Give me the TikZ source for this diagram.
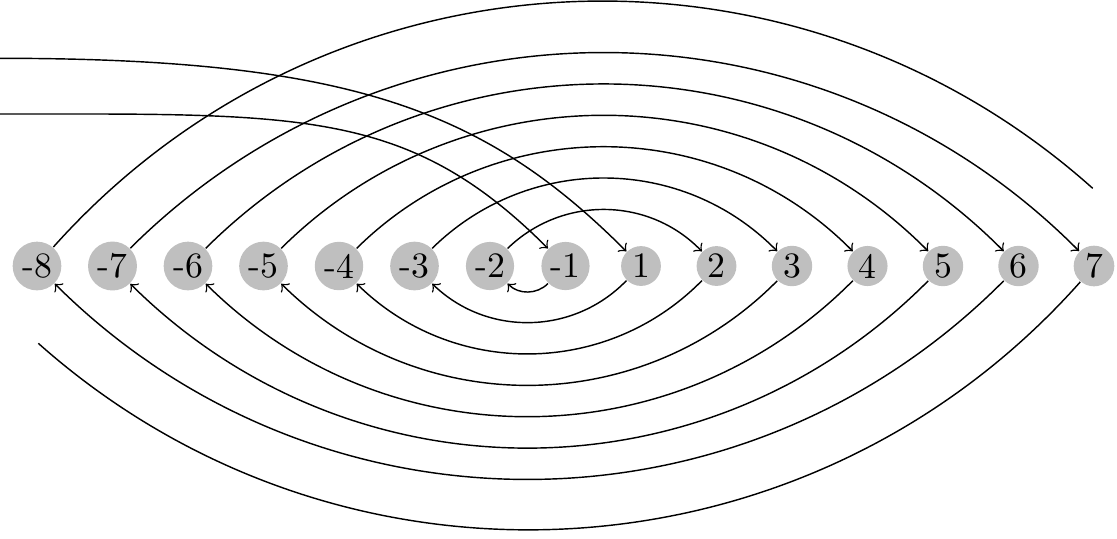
\documentclass[tikz,border=0pt]{standalone}
\begin{document}
\begin{tikzpicture}[x=0.28pt, y=-0.28pt,
  num/.style={circle, fill=lightgray, inner sep=1pt},
  arc/.style={->, bend left=45},
  open/.style={bend left=45}]
\useasboundingbox (0,0) rectangle (1117,538);
% nodes
\node[num] (m8) at (37.0,266) {-8};
\node[num] (m7) at (112.5,266) {-7};
\node[num] (m6) at (188.0,266) {-6};
\node[num] (m5) at (263.5,266) {-5};
\node[num] (m4) at (339.0,266) {-4};
\node[num] (m3) at (414.5,266) {-3};
\node[num] (m2) at (490.0,266) {-2};
\node[num] (m1) at (565.5,266) {-1};
\node[num] (p1) at (641.0,266) {1};
\node[num] (p2) at (716.5,266) {2};
\node[num] (p3) at (792.0,266) {3};
\node[num] (p4) at (867.5,266) {4};
\node[num] (p5) at (943.0,266) {5};
\node[num] (p6) at (1018.5,266) {6};
\node[num] (p7) at (1094.0,266) {7};
% free ends
\coordinate (e8) at (1092.7,188.3);
\coordinate (e7) at (38.3,343.3);
\coordinate (sA) at (0,58.3);
\coordinate (sB) at (0,114);
% upper arcs
\draw[arc] (m2) to (p2);
\draw[arc] (m3) to (p3);
\draw[arc] (m4) to (p4);
\draw[arc] (m5) to (p5);
\draw[arc] (m6) to (p6);
\draw[arc] (m7) to (p7);
\draw[open] (m8) to (e8);
% lower arcs
\draw[arc] (m1) to (m2);
\draw[arc] (p1) to (m3);
\draw[arc] (p2) to (m4);
\draw[arc] (p3) to (m5);
\draw[arc] (p4) to (m6);
\draw[arc] (p5) to (m7);
\draw[arc] (p6) to (m8);
\draw[open] (p7) to (e7);
% incoming lines from the left
\draw[->] (sA) .. controls (350,58.3) and (485.4,110.4) .. (p1);
\draw[->] (sB) .. controls (300,114) and (407.3,107.8) .. (m1);
\end{tikzpicture}
\end{document}
